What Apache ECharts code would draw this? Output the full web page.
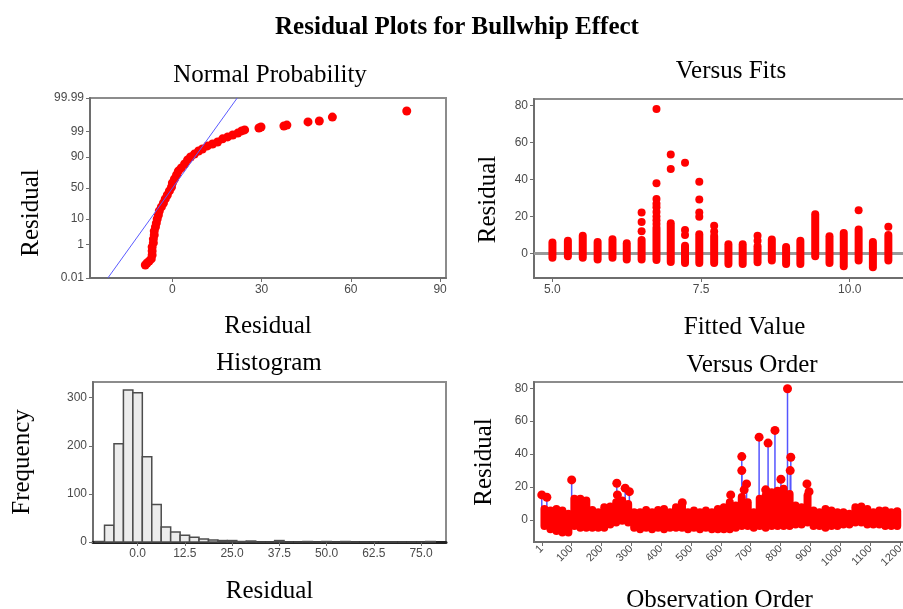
<!DOCTYPE html>
<html>
<head>
<meta charset="utf-8">
<title>Residual Plots for Bullwhip Effect</title>
<script src="https://cdn.jsdelivr.net/npm/echarts@6/dist/echarts.min.js"></script>
<style>
  html, body { margin: 0; padding: 0; background: #fff; }
  #chart { width: 903px; height: 609px; }
</style>
</head>
<body>
<div id="chart"></div>
<script>
// --- Normal probability plot: residual vs normal score ---
const npResid = [-9.1, -8.5, -7.8, -7.1, -6.8, -6.8, -6.8, -6.4, -6.4, -6.1, -6.1, -5.7, -5.4, -5.1, -4.7, -4.4, -3.7, -3.0, -2.4, -1.7, -1.0, -0.3, 0.0, 0.7, 1.4, 2.0, 3.0, 4.1, 5.1, 6.1, 7.4, 8.8, 10.1, 11.8, 13.5, 15.2, 16.9, 18.6, 20.3, 22.0, 23.3, 24.3, 29.1, 29.8, 37.5, 38.5, 45.6, 49.4, 53.8, 78.8]
const npScore = [-3.18, -3.10, -3.02, -2.93, -2.77, -2.60, -2.44, -2.27, -2.11, -1.94, -1.78, -1.61, -1.45, -1.28, -1.12, -0.95, -0.78, -0.62, -0.45, -0.29, -0.12, 0.04, 0.21, 0.37, 0.54, 0.70, 0.83, 0.99, 1.16, 1.28, 1.40, 1.53, 1.61, 1.74, 1.82, 1.90, 2.03, 2.11, 2.19, 2.27, 2.36, 2.40, 2.48, 2.52, 2.56, 2.60, 2.73, 2.77, 2.93, 3.18]
const npFitResid = [-21.7, 21.8]
const npFitScore = [-3.719, 3.719]
const probTickLabels = ['0.01', '1', '10', '50', '90', '99', '99.99']
const probTickScores = [-3.719, -2.326, -1.282, 0, 1.282, 2.326, 3.719]
const npXTicks = [0, 30, 60, 90]

// --- Versus fits: each fitted value has a dense stack of residuals plus a few outliers ---
const fitValues = [5.0, 5.26, 5.51, 5.76, 6.01, 6.25, 6.5, 6.75, 6.99, 7.23, 7.47, 7.72, 7.96, 8.2, 8.45, 8.69, 8.93, 9.17, 9.42, 9.66, 9.9, 10.15, 10.39, 10.65]
const fitLow = [-2.3, -1.4, -2.3, -3.2, -2.3, -3.2, -3.2, -3.5, -4.5, -5.1, -5.1, -5.1, -5.6, -5.6, -4.7, -3.8, -5.6, -5.6, -1.4, -5.1, -6.9, -3.8, -7.4, -3.8]
const fitHigh = [6.0, 6.9, 9.6, 6.3, 7.8, 5.6, 7.4, 14.0, 16.4, 4.2, 10.5, 9.5, 5.1, 5.1, 4.0, 7.6, 3.6, 6.9, 21.3, 9.4, 11.2, 13.0, 6.3, 10.0]
const fitOutX = [6.5, 6.5, 6.5, 6.75, 6.75, 6.75, 6.75, 6.75, 6.75, 6.75, 6.75, 6.75, 6.99, 6.99, 7.23, 7.23, 7.23, 7.47, 7.47, 7.47, 7.47, 7.72, 7.72, 8.45, 8.45, 10.15, 10.65]
const fitOutY = [12.1, 17.1, 22.2, 16.0, 18.0, 20.0, 22.5, 25.0, 27.0, 29.5, 38.0, 78.2, 45.7, 53.6, 10.0, 12.8, 49.1, 19.9, 22.2, 29.3, 38.8, 12.0, 15.0, 7.0, 9.6, 23.5, 14.5]
const fitXTicks = [5, 7.5, 10]
const residTicks = [0, 20, 40, 60, 80]

// --- Histogram (bin centres, width 2.5) ---
const histCenters = [-10, -7.5, -5, -2.5, 0, 2.5, 5, 7.5, 10, 12.5, 15, 17.5, 20, 22.5, 25, 27.5, 30, 32.5, 35, 37.5, 40, 42.5, 45, 47.5, 50, 52.5, 55, 57.5, 60, 62.5, 65, 67.5, 70, 72.5, 75, 77.5]
const histCounts = [1, 35, 204, 316, 310, 177, 78, 31, 21, 14, 10, 6, 4, 3, 3, 1, 2, 0, 0, 3, 0, 0, 1, 0, 1, 0, 1, 0, 0, 0, 0, 0, 0, 0, 0, 1]
const histXTicks = [0, 12.5, 25, 37.5, 50, 62.5, 75]
const histYTicks = [0, 100, 200, 300]

// --- Versus order: residual range per block of 20 observations, plus the spikes ---
const orderBins = [10, 30, 50, 70, 90, 110, 130, 150, 170, 190, 210, 230, 250, 270, 290, 310, 330, 350, 370, 390, 410, 430, 450, 470, 490, 510, 530, 550, 570, 590, 610, 630, 650, 670, 690, 710, 730, 750, 770, 790, 810, 830, 850, 870, 890, 910, 930, 950, 970, 990, 1010, 1030, 1050, 1070, 1090, 1110, 1130, 1150, 1170, 1190]
const orderHigh = [6.7, 5.7, 6.7, 5.7, 3.7, 12.8, 12.8, 11.8, 6.1, 4.7, 7.7, 8.1, 10.8, 11.8, 9.7, 4.7, 4.7, 6.1, 4.7, 6.1, 6.7, 4.7, 7.7, 9.7, 4.7, 5.7, 4.7, 5.7, 4.7, 6.7, 7.7, 10.8, 8.7, 14.0, 10.7, 4.7, 12.8, 14.8, 16.8, 17.8, 18.9, 15.8, 8.7, 7.7, 14.8, 5.7, 4.7, 6.7, 5.7, 4.7, 4.7, 3.7, 7.7, 8.1, 6.7, 4.7, 5.7, 5.7, 4.7, 5.3]
const orderLow = [-3.7, -5.7, -6.7, -7.7, -7.7, -3.7, -4.7, -4.7, -4.7, -4.7, -4.7, -2.7, -1.6, -0.5, -1.6, -4.7, -5.7, -4.7, -5.7, -4.7, -5.7, -4.7, -4.7, -4.7, -5.7, -4.7, -5.7, -4.7, -5.7, -5.7, -5.7, -5.7, -4.7, -3.7, -3.7, -4.7, -3.7, -4.7, -3.7, -3.7, -3.7, -3.7, -2.7, -2.7, -1.6, -3.7, -3.7, -4.7, -3.7, -3.7, -2.7, -2.7, -1.6, -1.6, -2.7, -2.7, -2.7, -3.7, -3.7, -3.7]
const spikeOrder = [1, 18, 101, 252, 254, 280, 294, 471, 633, 670, 670, 678, 686, 728, 750, 758, 781, 801, 823, 832, 834, 888, 895]
const spikeResid = [15.2, 13.8, 24.3, 22.3, 15.2, 19.3, 17.2, 10.5, 15.2, 38.5, 30.0, 18.3, 21.9, 50.3, 18.3, 46.7, 54.4, 24.7, 79.7, 30.0, 38.1, 21.9, 17.2]
const orderTicks = [1, 100, 200, 300, 400, 500, 600, 700, 800, 900, 1000, 1100, 1200]

const serif = 'Liberation Serif'
const red = '#ff0000'

function makeAxis(gridIndex, min, max, ticks, name, nameGap, formatter, extra) {
  const axis = {
    type: 'value',
    gridIndex: gridIndex,
    min: min,
    max: max,
    name: name,
    nameLocation: 'middle',
    nameGap: nameGap,
    nameTextStyle: { fontFamily: serif, fontSize: 25, color: '#000' },
    axisLine: { show: true, onZero: false, lineStyle: { color: '#6e6e6e', width: 2 } },
    axisTick: { show: true, customValues: ticks, length: 4, lineStyle: { color: '#6e6e6e', width: 1 } },
    axisLabel: {
      customValues: ticks,
      formatter: formatter,
      fontFamily: 'Liberation Sans',
      fontSize: 12,
      color: '#4a4a4a',
      margin: 6,
    },
    splitLine: { show: false },
  }
  return Object.assign(axis, extra || {})
}

// one thick red stroke from low to high, like a stack of overlapping dots
function renderStack(params, api) {
  const top = api.coord([api.value(0), api.value(2)])
  const bottom = api.coord([api.value(0), api.value(1)])
  return {
    type: 'line',
    shape: { x1: top[0], y1: top[1], x2: bottom[0], y2: bottom[1] },
    style: { stroke: red, lineWidth: 8, lineCap: 'round' },
  }
}

function renderStem(params, api) {
  const top = api.coord([api.value(0), api.value(1)])
  const bottom = api.coord([api.value(0), 0])
  return {
    type: 'line',
    shape: { x1: top[0], y1: top[1], x2: bottom[0], y2: bottom[1] },
    style: { stroke: '#5555ff', lineWidth: 1.5 },
  }
}

function renderBin(params, api) {
  const p0 = api.coord([api.value(0) - 1.25, api.value(1)])
  const p1 = api.coord([api.value(0) + 1.25, 0])
  return {
    type: 'rect',
    shape: { x: p0[0], y: p0[1], width: p1[0] - p0[0], height: p1[1] - p0[1] },
    style: { fill: '#ececec', stroke: '#4d4d4d', lineWidth: 1.5 },
  }
}

const gridStyle = { show: true, borderColor: '#8c8c8c', borderWidth: 2, backgroundColor: '#fff', outerBoundsMode: 'none' }
const titleStyle = { fontFamily: serif, fontSize: 25, fontWeight: 'normal', color: '#000' }

const chart = echarts.init(document.getElementById('chart'), null, { renderer: 'canvas' })

chart.setOption({
  animation: false,
  backgroundColor: '#fff',
  title: [
    { text: 'Residual Plots for Bullwhip Effect', left: 452, top: 10, textAlign: 'center', textStyle: Object.assign({}, titleStyle, { fontWeight: 'bold' }) },
    { text: 'Normal Probability', left: 265, top: 58, textAlign: 'center', textStyle: titleStyle },
    { text: 'Versus Fits', left: 726, top: 54, textAlign: 'center', textStyle: titleStyle },
    { text: 'Histogram', left: 264, top: 346, textAlign: 'center', textStyle: titleStyle },
    { text: 'Versus Order', left: 747, top: 348, textAlign: 'center', textStyle: titleStyle },
  ],
  grid: [
    Object.assign({ left: 90, top: 98, right: 457, bottom: 331 }, gridStyle),
    Object.assign({ left: 534, top: 99, right: -2, bottom: 331 }, gridStyle),
    Object.assign({ left: 93, top: 382, right: 457, bottom: 67 }, gridStyle),
    Object.assign({ left: 534, top: 382, right: -2, bottom: 67 }, gridStyle),
  ],
  xAxis: [
    makeAxis(0, -27.7, 92, npXTicks, 'Residual', 36, (v) => String(v)),
    makeAxis(1, 4.69, 10.93, fitXTicks, 'Fitted Value', 37, (v) => v.toFixed(1), {
      nameTextStyle: { fontFamily: serif, fontSize: 25, color: '#000', padding: [0, 0, 0, 50] },
    }),
    makeAxis(2, -11.8, 81.6, histXTicks, 'Residual', 37, (v) => v.toFixed(1), {
      axisLine: { show: true, onZero: false, lineStyle: { color: '#222', width: 3 } },
    }),
    makeAxis(3, -25, 1216, orderTicks, 'Observation Order', 46, (v) => String(v), {
      axisLabel: {
        customValues: orderTicks,
        formatter: (v) => String(v),
        fontFamily: 'Liberation Sans',
        fontSize: 11,
        color: '#4a4a4a',
        margin: 5,
        rotate: 45,
      },
    }),
  ],
  yAxis: [
    makeAxis(0, -3.719, 3.719, probTickScores, 'Residual', 46, (v) => probTickLabels[probTickScores.indexOf(v)], {
      nameTextStyle: { fontFamily: serif, fontSize: 25, color: '#000', padding: [0, 50, 0, 0] },
    }),
    makeAxis(1, -13.2, 83.6, residTicks, 'Residual', 33, (v) => String(v), {
      nameTextStyle: { fontFamily: serif, fontSize: 25, color: '#000', padding: [0, 22, 0, 0] },
    }),
    makeAxis(2, 0, 332.6, histYTicks, 'Frequency', 58, (v) => String(v)),
    makeAxis(3, -13.4, 83.8, residTicks, 'Residual', 37, (v) => String(v)),
  ],
  series: [
    // normal probability
    {
      type: 'scatter',
      xAxisIndex: 0,
      yAxisIndex: 0,
      symbolSize: 9,
      itemStyle: { color: red, opacity: 1 },
      data: npResid.map((r, i) => [r, npScore[i]]),
      z: 2,
    },
    {
      type: 'line',
      xAxisIndex: 0,
      yAxisIndex: 0,
      symbol: 'none',
      lineStyle: { color: '#5a5aff', width: 1 },
      data: npFitResid.map((r, i) => [r, npFitScore[i]]),
      z: 3,
    },
    // versus fits: reference line at zero, drawn underneath the points
    {
      type: 'scatter',
      xAxisIndex: 1,
      yAxisIndex: 1,
      data: [],
      markLine: {
        silent: true,
        symbol: 'none',
        label: { show: false },
        lineStyle: { color: '#9a9a9a', width: 3, type: 'solid' },
        data: [{ yAxis: 0 }],
      },
    },
    {
      type: 'custom',
      xAxisIndex: 1,
      yAxisIndex: 1,
      renderItem: renderStack,
      data: fitValues.map((f, i) => [f, fitLow[i], fitHigh[i]]),
      zlevel: 1,
    },
    {
      type: 'scatter',
      xAxisIndex: 1,
      yAxisIndex: 1,
      symbolSize: 8,
      itemStyle: { color: red, opacity: 1 },
      data: fitOutX.map((f, i) => [f, fitOutY[i]]),
      zlevel: 1,
    },
    // histogram
    {
      type: 'custom',
      xAxisIndex: 2,
      yAxisIndex: 2,
      renderItem: renderBin,
      data: histCenters.map((c, i) => [c, histCounts[i]]),
      z: 2,
    },
    // versus order
    {
      type: 'custom',
      xAxisIndex: 3,
      yAxisIndex: 3,
      renderItem: renderStem,
      data: spikeOrder.map((o, i) => [o, spikeResid[i]]),
      z: 1,
    },
    {
      type: 'custom',
      xAxisIndex: 3,
      yAxisIndex: 3,
      renderItem: renderStack,
      data: orderBins.map((o, i) => [o, orderLow[i], orderHigh[i]]),
      z: 2,
    },
    {
      type: 'scatter',
      xAxisIndex: 3,
      yAxisIndex: 3,
      symbolSize: 9,
      itemStyle: { color: red, opacity: 1 },
      data: spikeOrder.map((o, i) => [o, spikeResid[i]]),
      z: 3,
    },
  ],
})
</script>
</body>
</html>
